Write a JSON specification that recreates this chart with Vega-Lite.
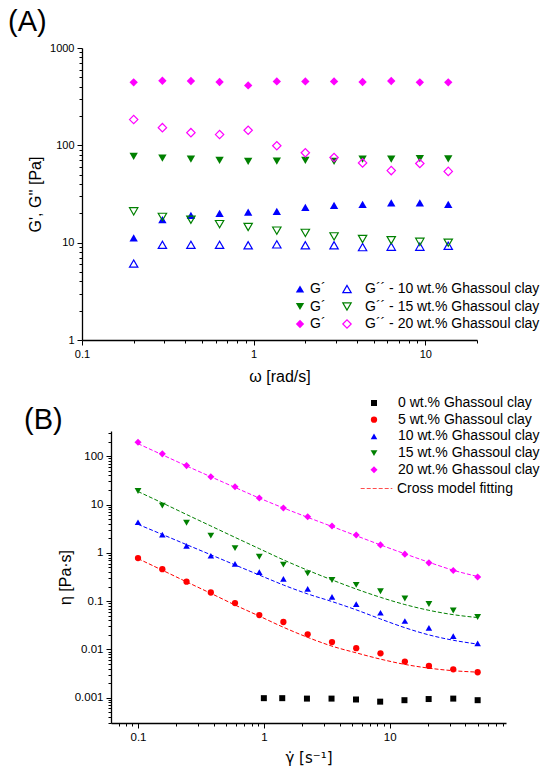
{
  "$schema": "https://vega.github.io/schema/vega-lite/v6.json",
  "background": "white",
  "padding": {"left": 8, "top": 8, "right": 0, "bottom": 0},
  "title": {
    "text": "(A)",
    "anchor": "start",
    "frame": "bounds",
    "font": "Liberation Sans",
    "fontSize": 29,
    "fontWeight": "normal",
    "color": "#000",
    "dx": -15,
    "offset": 5
  },
  "config": {
    "view": {"stroke": null},
    "font": "Liberation Sans",
    "axis": {
      "grid": false,
      "domainColor": "#000",
      "domainWidth": 1.3,
      "tickColor": "#000",
      "tickWidth": 1,
      "labelColor": "#000",
      "labelFont": "Liberation Sans",
      "labelFontSize": 11,
      "labelPadding": 3,
      "titleColor": "#000",
      "titleFont": "Liberation Sans",
      "titleFontSize": 16,
      "titleFontWeight": "normal"
    },
    "legend": {
      "orient": "none",
      "padding": 0,
      "labelFont": "Liberation Sans",
      "labelFontSize": 14,
      "labelColor": "#000",
      "labelLimit": 400,
      "rowPadding": 3.5
    }
  },
  "datasets": {
    "osc": [
      {"omega": 0.2, "clay": "10 wt.%", "Gp": 11.2, "Gpp": 6.1},
      {"omega": 0.294, "clay": "10 wt.%", "Gp": 17.2, "Gpp": 9.5},
      {"omega": 0.431, "clay": "10 wt.%", "Gp": 19.1, "Gpp": 9.5},
      {"omega": 0.633, "clay": "10 wt.%", "Gp": 20.0, "Gpp": 9.5},
      {"omega": 0.929, "clay": "10 wt.%", "Gp": 20.6, "Gpp": 9.4},
      {"omega": 1.364, "clay": "10 wt.%", "Gp": 21.0, "Gpp": 9.6},
      {"omega": 2.0, "clay": "10 wt.%", "Gp": 23.0, "Gpp": 9.4},
      {"omega": 2.94, "clay": "10 wt.%", "Gp": 24.2, "Gpp": 9.4},
      {"omega": 4.31, "clay": "10 wt.%", "Gp": 24.8, "Gpp": 9.0},
      {"omega": 6.33, "clay": "10 wt.%", "Gp": 25.6, "Gpp": 9.1},
      {"omega": 9.29, "clay": "10 wt.%", "Gp": 25.6, "Gpp": 9.1},
      {"omega": 13.6, "clay": "10 wt.%", "Gp": 24.8, "Gpp": 9.3},
      {"omega": 0.2, "clay": "15 wt.%", "Gp": 77, "Gpp": 21.0},
      {"omega": 0.294, "clay": "15 wt.%", "Gp": 74, "Gpp": 18.4},
      {"omega": 0.431, "clay": "15 wt.%", "Gp": 72, "Gpp": 17.2},
      {"omega": 0.633, "clay": "15 wt.%", "Gp": 70, "Gpp": 15.5},
      {"omega": 0.929, "clay": "15 wt.%", "Gp": 68.5, "Gpp": 14.5},
      {"omega": 1.364, "clay": "15 wt.%", "Gp": 69, "Gpp": 13.3},
      {"omega": 2.0, "clay": "15 wt.%", "Gp": 70, "Gpp": 12.6},
      {"omega": 2.94, "clay": "15 wt.%", "Gp": 68.5, "Gpp": 11.6},
      {"omega": 4.31, "clay": "15 wt.%", "Gp": 72, "Gpp": 10.9},
      {"omega": 6.33, "clay": "15 wt.%", "Gp": 72, "Gpp": 10.6},
      {"omega": 9.29, "clay": "15 wt.%", "Gp": 73, "Gpp": 10.2},
      {"omega": 13.6, "clay": "15 wt.%", "Gp": 72.5, "Gpp": 10.0},
      {"omega": 0.2, "clay": "20 wt.%", "Gp": 444, "Gpp": 184},
      {"omega": 0.294, "clay": "20 wt.%", "Gp": 461, "Gpp": 152},
      {"omega": 0.431, "clay": "20 wt.%", "Gp": 458, "Gpp": 135},
      {"omega": 0.633, "clay": "20 wt.%", "Gp": 447, "Gpp": 129},
      {"omega": 0.929, "clay": "20 wt.%", "Gp": 413, "Gpp": 143},
      {"omega": 1.364, "clay": "20 wt.%", "Gp": 454, "Gpp": 99},
      {"omega": 2.0, "clay": "20 wt.%", "Gp": 454, "Gpp": 84},
      {"omega": 2.94, "clay": "20 wt.%", "Gp": 454, "Gpp": 75},
      {"omega": 4.31, "clay": "20 wt.%", "Gp": 447, "Gpp": 66},
      {"omega": 6.33, "clay": "20 wt.%", "Gp": 458, "Gpp": 55},
      {"omega": 9.29, "clay": "20 wt.%", "Gp": 444, "Gpp": 65},
      {"omega": 13.6, "clay": "20 wt.%", "Gp": 444, "Gpp": 54}
    ],
    "flow": [
      {"rate": 1.0, "clay": "0 wt.%", "eta": 0.00098},
      {"rate": 1.4, "clay": "0 wt.%", "eta": 0.00098},
      {"rate": 2.2, "clay": "0 wt.%", "eta": 0.00096},
      {"rate": 3.45, "clay": "0 wt.%", "eta": 0.00096},
      {"rate": 5.4, "clay": "0 wt.%", "eta": 0.00092},
      {"rate": 8.4, "clay": "0 wt.%", "eta": 0.00083},
      {"rate": 13.1, "clay": "0 wt.%", "eta": 0.00089},
      {"rate": 20.4, "clay": "0 wt.%", "eta": 0.00094},
      {"rate": 32, "clay": "0 wt.%", "eta": 0.00096},
      {"rate": 50, "clay": "0 wt.%", "eta": 0.00089},
      {"rate": 0.1, "clay": "5 wt.%", "eta": 0.78},
      {"rate": 0.156, "clay": "5 wt.%", "eta": 0.46},
      {"rate": 0.243, "clay": "5 wt.%", "eta": 0.253},
      {"rate": 0.379, "clay": "5 wt.%", "eta": 0.151},
      {"rate": 0.59, "clay": "5 wt.%", "eta": 0.091},
      {"rate": 0.92, "clay": "5 wt.%", "eta": 0.0516},
      {"rate": 1.43, "clay": "5 wt.%", "eta": 0.037},
      {"rate": 2.23, "clay": "5 wt.%", "eta": 0.0206},
      {"rate": 3.48, "clay": "5 wt.%", "eta": 0.0142},
      {"rate": 5.42, "clay": "5 wt.%", "eta": 0.0106},
      {"rate": 8.45, "clay": "5 wt.%", "eta": 0.0083},
      {"rate": 13.2, "clay": "5 wt.%", "eta": 0.0056},
      {"rate": 20.5, "clay": "5 wt.%", "eta": 0.00455},
      {"rate": 32, "clay": "5 wt.%", "eta": 0.00388},
      {"rate": 50, "clay": "5 wt.%", "eta": 0.00337},
      {"rate": 0.1, "clay": "10 wt.%", "eta": 4.3},
      {"rate": 0.156, "clay": "10 wt.%", "eta": 2.38},
      {"rate": 0.243, "clay": "10 wt.%", "eta": 1.39},
      {"rate": 0.379, "clay": "10 wt.%", "eta": 0.87},
      {"rate": 0.59, "clay": "10 wt.%", "eta": 0.59},
      {"rate": 0.92, "clay": "10 wt.%", "eta": 0.4},
      {"rate": 1.43, "clay": "10 wt.%", "eta": 0.288},
      {"rate": 2.23, "clay": "10 wt.%", "eta": 0.179},
      {"rate": 3.48, "clay": "10 wt.%", "eta": 0.123},
      {"rate": 5.42, "clay": "10 wt.%", "eta": 0.087},
      {"rate": 8.45, "clay": "10 wt.%", "eta": 0.0575},
      {"rate": 13.2, "clay": "10 wt.%", "eta": 0.0388},
      {"rate": 20.5, "clay": "10 wt.%", "eta": 0.0279},
      {"rate": 32, "clay": "10 wt.%", "eta": 0.0188},
      {"rate": 50, "clay": "10 wt.%", "eta": 0.0133},
      {"rate": 0.1, "clay": "15 wt.%", "eta": 19.1},
      {"rate": 0.156, "clay": "15 wt.%", "eta": 9.5},
      {"rate": 0.243, "clay": "15 wt.%", "eta": 4.2},
      {"rate": 0.379, "clay": "15 wt.%", "eta": 2.27},
      {"rate": 0.59, "clay": "15 wt.%", "eta": 1.25},
      {"rate": 0.92, "clay": "15 wt.%", "eta": 0.83},
      {"rate": 1.43, "clay": "15 wt.%", "eta": 0.57},
      {"rate": 2.23, "clay": "15 wt.%", "eta": 0.376},
      {"rate": 3.48, "clay": "15 wt.%", "eta": 0.274},
      {"rate": 5.42, "clay": "15 wt.%", "eta": 0.217},
      {"rate": 8.45, "clay": "15 wt.%", "eta": 0.16},
      {"rate": 13.2, "clay": "15 wt.%", "eta": 0.1135},
      {"rate": 20.5, "clay": "15 wt.%", "eta": 0.087},
      {"rate": 32, "clay": "15 wt.%", "eta": 0.064},
      {"rate": 50, "clay": "15 wt.%", "eta": 0.047},
      {"rate": 0.1, "clay": "20 wt.%", "eta": 195},
      {"rate": 0.156, "clay": "20 wt.%", "eta": 112},
      {"rate": 0.243, "clay": "20 wt.%", "eta": 64},
      {"rate": 0.379, "clay": "20 wt.%", "eta": 37.6},
      {"rate": 0.59, "clay": "20 wt.%", "eta": 23.4},
      {"rate": 0.92, "clay": "20 wt.%", "eta": 13.7},
      {"rate": 1.43, "clay": "20 wt.%", "eta": 8.5},
      {"rate": 2.23, "clay": "20 wt.%", "eta": 5.6},
      {"rate": 3.48, "clay": "20 wt.%", "eta": 3.6},
      {"rate": 5.42, "clay": "20 wt.%", "eta": 2.34},
      {"rate": 8.45, "clay": "20 wt.%", "eta": 1.46},
      {"rate": 13.2, "clay": "20 wt.%", "eta": 0.94},
      {"rate": 20.5, "clay": "20 wt.%", "eta": 0.62},
      {"rate": 32, "clay": "20 wt.%", "eta": 0.43},
      {"rate": 50, "clay": "20 wt.%", "eta": 0.316}
    ],
    "fit": [
      {"rate": 0.1, "clay": "5 wt.%", "eta": 0.759},
      {"rate": 0.156, "clay": "5 wt.%", "eta": 0.437},
      {"rate": 0.243, "clay": "5 wt.%", "eta": 0.251},
      {"rate": 0.379, "clay": "5 wt.%", "eta": 0.145},
      {"rate": 0.59, "clay": "5 wt.%", "eta": 0.0832},
      {"rate": 0.92, "clay": "5 wt.%", "eta": 0.049},
      {"rate": 1.43, "clay": "5 wt.%", "eta": 0.0288},
      {"rate": 2.23, "clay": "5 wt.%", "eta": 0.0178},
      {"rate": 3.48, "clay": "5 wt.%", "eta": 0.0117},
      {"rate": 5.42, "clay": "5 wt.%", "eta": 0.0085},
      {"rate": 8.45, "clay": "5 wt.%", "eta": 0.0063},
      {"rate": 13.2, "clay": "5 wt.%", "eta": 0.0049},
      {"rate": 20.5, "clay": "5 wt.%", "eta": 0.0041},
      {"rate": 32, "clay": "5 wt.%", "eta": 0.00363},
      {"rate": 50, "clay": "5 wt.%", "eta": 0.00339},
      {"rate": 0.1, "clay": "10 wt.%", "eta": 3.89},
      {"rate": 0.156, "clay": "10 wt.%", "eta": 2.4},
      {"rate": 0.243, "clay": "10 wt.%", "eta": 1.48},
      {"rate": 0.379, "clay": "10 wt.%", "eta": 0.912},
      {"rate": 0.59, "clay": "10 wt.%", "eta": 0.562},
      {"rate": 0.92, "clay": "10 wt.%", "eta": 0.347},
      {"rate": 1.43, "clay": "10 wt.%", "eta": 0.216},
      {"rate": 2.23, "clay": "10 wt.%", "eta": 0.141},
      {"rate": 3.48, "clay": "10 wt.%", "eta": 0.098},
      {"rate": 5.42, "clay": "10 wt.%", "eta": 0.066},
      {"rate": 8.45, "clay": "10 wt.%", "eta": 0.0427},
      {"rate": 13.2, "clay": "10 wt.%", "eta": 0.0282},
      {"rate": 20.5, "clay": "10 wt.%", "eta": 0.02},
      {"rate": 32, "clay": "10 wt.%", "eta": 0.0155},
      {"rate": 50, "clay": "10 wt.%", "eta": 0.0129},
      {"rate": 0.1, "clay": "15 wt.%", "eta": 18.6},
      {"rate": 0.156, "clay": "15 wt.%", "eta": 10.8},
      {"rate": 0.243, "clay": "15 wt.%", "eta": 6.22},
      {"rate": 0.379, "clay": "15 wt.%", "eta": 3.6},
      {"rate": 0.59, "clay": "15 wt.%", "eta": 2.09},
      {"rate": 0.92, "clay": "15 wt.%", "eta": 1.22},
      {"rate": 1.43, "clay": "15 wt.%", "eta": 0.716},
      {"rate": 2.23, "clay": "15 wt.%", "eta": 0.436},
      {"rate": 3.48, "clay": "15 wt.%", "eta": 0.275},
      {"rate": 5.42, "clay": "15 wt.%", "eta": 0.178},
      {"rate": 8.45, "clay": "15 wt.%", "eta": 0.12},
      {"rate": 13.2, "clay": "15 wt.%", "eta": 0.085},
      {"rate": 20.5, "clay": "15 wt.%", "eta": 0.0646},
      {"rate": 32, "clay": "15 wt.%", "eta": 0.0525},
      {"rate": 50, "clay": "15 wt.%", "eta": 0.0457},
      {"rate": 0.1, "clay": "20 wt.%", "eta": 182},
      {"rate": 0.156, "clay": "20 wt.%", "eta": 107},
      {"rate": 0.243, "clay": "20 wt.%", "eta": 63},
      {"rate": 0.379, "clay": "20 wt.%", "eta": 37.6},
      {"rate": 0.59, "clay": "20 wt.%", "eta": 22.6},
      {"rate": 0.92, "clay": "20 wt.%", "eta": 13.6},
      {"rate": 1.43, "clay": "20 wt.%", "eta": 8.5},
      {"rate": 2.23, "clay": "20 wt.%", "eta": 5.43},
      {"rate": 3.48, "clay": "20 wt.%", "eta": 3.51},
      {"rate": 5.42, "clay": "20 wt.%", "eta": 2.26},
      {"rate": 8.45, "clay": "20 wt.%", "eta": 1.46},
      {"rate": 13.2, "clay": "20 wt.%", "eta": 0.955},
      {"rate": 20.5, "clay": "20 wt.%", "eta": 0.638},
      {"rate": 32, "clay": "20 wt.%", "eta": 0.436},
      {"rate": 50, "clay": "20 wt.%", "eta": 0.324}
    ]
  },
  "vconcat": [
    {
      "hconcat": [
        {
          "width": 4,
          "height": 1,
          "data": {"values": [{}]},
          "mark": {"type": "rect", "opacity": 0}
        },
        {
          "width": 395,
          "height": 292,
          "data": {"name": "osc"},
          "encoding": {
            "x": {
              "field": "omega",
              "type": "quantitative",
              "title": "ω [rad/s]",
              "scale": {"type": "log", "domain": [0.1, 20], "nice": false},
              "axis": {
                "values": [0.1, 0.2, 0.3, 0.4, 0.5, 0.6, 0.7, 0.8, 0.9, 1, 2, 3, 4, 5, 6, 7, 8, 9, 10, 20],
                "format": "~g",
                "labelExpr": "abs(log(datum.value)/LN10 - round(log(datum.value)/LN10)) < 0.001 ? datum.label : ''",
                "tickSize": {"condition": {"test": "abs(log(datum.value)/LN10 - round(log(datum.value)/LN10)) < 0.001", "value": 5}, "value": 3},
                "labelFlush": false,
                "titlePadding": 9
              }
            }
          },
          "layer": [
            {
              "mark": {"type": "point", "filled": true, "size": 70, "opacity": 1},
              "encoding": {
                "y": {
                  "field": "Gp",
                  "type": "quantitative",
                  "title": "G', G'' [Pa]",
                  "scale": {"type": "log", "domain": [1, 1000], "nice": false},
                  "axis": {
                    "values": [1, 2, 3, 4, 5, 6, 7, 8, 9, 10, 20, 30, 40, 50, 60, 70, 80, 90, 100, 200, 300, 400, 500, 600, 700, 800, 900, 1000],
                    "format": "~g",
                    "labelExpr": "abs(log(datum.value)/LN10 - round(log(datum.value)/LN10)) < 0.001 ? datum.label : ''",
                    "tickSize": {"condition": {"test": "abs(log(datum.value)/LN10 - round(log(datum.value)/LN10)) < 0.001", "value": 5}, "value": 3},
                    "labelFlush": false,
                    "titlePadding": 6
                  }
                },
                "color": {
                  "field": "clay",
                  "type": "nominal",
                  "scale": {"domain": ["10 wt.%", "15 wt.%", "20 wt.%"], "range": ["#0000ff", "#008000", "#ff00ff"]},
                  "legend": {"title": null, "orient": "none", "legendX": 211, "legendY": 234, "labelExpr": "'G´'", "labelOffset": 3, "symbolSize": 70}
                },
                "shape": {
                  "field": "clay",
                  "type": "nominal",
                  "scale": {"domain": ["10 wt.%", "15 wt.%", "20 wt.%"], "range": ["triangle-up", "triangle-down", "diamond"]},
                  "legend": {"title": null, "orient": "none", "legendX": 211, "legendY": 234, "labelExpr": "'G´'", "labelOffset": 3, "symbolSize": 70}
                }
              }
            },
            {
              "mark": {"type": "point", "filled": false, "size": 70, "strokeWidth": 1.2, "opacity": 1},
              "encoding": {
                "y": {
                  "field": "Gpp",
                  "type": "quantitative",
                  "title": "G', G'' [Pa]",
                  "scale": {"type": "log", "domain": [1, 1000], "nice": false},
                  "axis": {
                    "values": [1, 2, 3, 4, 5, 6, 7, 8, 9, 10, 20, 30, 40, 50, 60, 70, 80, 90, 100, 200, 300, 400, 500, 600, 700, 800, 900, 1000],
                    "format": "~g",
                    "labelExpr": "abs(log(datum.value)/LN10 - round(log(datum.value)/LN10)) < 0.001 ? datum.label : ''",
                    "tickSize": {"condition": {"test": "abs(log(datum.value)/LN10 - round(log(datum.value)/LN10)) < 0.001", "value": 5}, "value": 3},
                    "labelFlush": false,
                    "titlePadding": 6
                  }
                },
                "color": {
                  "field": "clay",
                  "type": "nominal",
                  "scale": {"domain": ["10 wt.%", "15 wt.%", "20 wt.%"], "range": ["#0000ff", "#008000", "#ff00ff"]},
                  "legend": {"title": null, "orient": "none", "legendX": 258, "legendY": 234, "labelExpr": "'G´´ - ' + datum.label + ' Ghassoul clay'", "labelOffset": 11, "symbolSize": 70, "symbolStrokeWidth": 1.2}
                },
                "shape": {
                  "field": "clay",
                  "type": "nominal",
                  "scale": {"domain": ["10 wt.%", "15 wt.%", "20 wt.%"], "range": ["triangle-up", "triangle-down", "diamond"]},
                  "legend": {"title": null, "orient": "none", "legendX": 258, "legendY": 234, "labelExpr": "'G´´ - ' + datum.label + ' Ghassoul clay'", "labelOffset": 11, "symbolSize": 70, "symbolStrokeWidth": 1.2}
                }
              }
            }
          ],
          "resolve": {"scale": {"color": "independent", "shape": "independent"}}
        }
      ],
      "spacing": 0,
      "resolve": {"scale": {"color": "independent", "shape": "independent"}}
    },
    {
      "hconcat": [
        {
          "width": 1,
          "height": 1,
          "data": {"values": [{}]},
          "mark": {"type": "rect", "opacity": 0}
        },
        {
          "width": 395,
          "height": 292,
          "encoding": {
            "x": {
              "field": "rate",
              "type": "quantitative",
              "title": "γ̇ [s⁻¹]",
              "scale": {"type": "log", "domain": [0.061, 84], "nice": false},
              "axis": {
                "values": [0.07, 0.08, 0.09, 0.1, 0.2, 0.3, 0.4, 0.5, 0.6, 0.7, 0.8, 0.9, 1, 2, 3, 4, 5, 6, 7, 8, 9, 10, 20, 30, 40, 50, 60, 70, 80],
                "format": "~g",
                "labelExpr": "abs(log(datum.value)/LN10 - round(log(datum.value)/LN10)) < 0.001 ? datum.label : ''",
                "tickSize": {"condition": {"test": "abs(log(datum.value)/LN10 - round(log(datum.value)/LN10)) < 0.001", "value": 5}, "value": 3},
                "labelFontSize": 11.5,
                "labelFlush": false,
                "titleFont": "DejaVu Sans",
                "titleFontSize": 15,
                "titlePadding": 8
              }
            },
            "y": {
              "field": "eta",
              "type": "quantitative",
              "title": "η [Pa·s]",
              "scale": {"type": "log", "domain": [0.0003, 333], "nice": false},
              "axis": {
                "values": [0.0003, 0.0004, 0.0005, 0.0006, 0.0007, 0.0008, 0.0009, 0.001, 0.002, 0.003, 0.004, 0.005, 0.006, 0.007, 0.008, 0.009, 0.01, 0.02, 0.03, 0.04, 0.05, 0.06, 0.07, 0.08, 0.09, 0.1, 0.2, 0.3, 0.4, 0.5, 0.6, 0.7, 0.8, 0.9, 1, 2, 3, 4, 5, 6, 7, 8, 9, 10, 20, 30, 40, 50, 60, 70, 80, 90, 100, 200, 300],
                "format": "~g",
                "labelExpr": "abs(log(datum.value)/LN10 - round(log(datum.value)/LN10)) < 0.001 ? datum.label : ''",
                "tickSize": {"condition": {"test": "abs(log(datum.value)/LN10 - round(log(datum.value)/LN10)) < 0.001", "value": 5}, "value": 3},
                "labelFontSize": 11.5,
                "labelFlush": false,
                "titlePadding": 1
              }
            }
          },
          "layer": [
            {
              "data": {"name": "fit"},
              "mark": {"type": "line", "strokeWidth": 1, "interpolate": "monotone", "color": "#ff4d4d"},
              "encoding": {
                "stroke": {
                  "field": "clay",
                  "type": "nominal",
                  "scale": {"domain": ["5 wt.%", "10 wt.%", "15 wt.%", "20 wt.%"], "range": ["#ff0000", "#0000ff", "#008000", "#ff00ff"]},
                  "legend": null
                },
                "strokeDash": {
                  "datum": "Cross model fitting",
                  "type": "nominal",
                  "scale": {"range": [[4, 2]]},
                  "legend": {"title": null, "orient": "none", "legendX": 249, "legendY": 41, "symbolType": "stroke", "symbolSize": 1000, "symbolStrokeColor": "#ff4d4d", "symbolStrokeWidth": 1.2, "labelOffset": 4}
                }
              }
            },
            {
              "data": {"name": "flow"},
              "mark": {"type": "point", "filled": true, "opacity": 1},
              "encoding": {
                "color": {
                  "field": "clay",
                  "type": "nominal",
                  "scale": {"domain": ["0 wt.%", "5 wt.%", "10 wt.%", "15 wt.%", "20 wt.%"], "range": ["#000000", "#ff0000", "#0000ff", "#008000", "#ff00ff"]},
                  "legend": {"title": "(B)", "titleOrient": "left", "titleAnchor": "start", "titleBaseline": "line-top", "titleLineHeight": 50, "titleFont": "Liberation Sans", "titleFontSize": 29, "titleFontWeight": "normal", "titleColor": "#000", "titlePadding": 304, "orient": "none", "legendX": -87, "legendY": -35, "labelExpr": "datum.label + ' Ghassoul clay'", "labelOffset": 17, "rowPadding": 2.7}
                },
                "shape": {
                  "field": "clay",
                  "type": "nominal",
                  "scale": {"domain": ["0 wt.%", "5 wt.%", "10 wt.%", "15 wt.%", "20 wt.%"], "range": ["square", "circle", "triangle-up", "triangle-down", "diamond"]},
                  "legend": {"title": "(B)", "titleOrient": "left", "titleAnchor": "start", "titleBaseline": "line-top", "titleLineHeight": 50, "titleFont": "Liberation Sans", "titleFontSize": 29, "titleFontWeight": "normal", "titleColor": "#000", "titlePadding": 304, "orient": "none", "legendX": -87, "legendY": -35, "labelExpr": "datum.label + ' Ghassoul clay'", "labelOffset": 17, "rowPadding": 2.7}
                },
                "size": {
                  "field": "clay",
                  "type": "nominal",
                  "scale": {"domain": ["0 wt.%", "5 wt.%", "10 wt.%", "15 wt.%", "20 wt.%"], "range": [36, 50, 60, 60, 70]},
                  "legend": {"title": "(B)", "titleOrient": "left", "titleAnchor": "start", "titleBaseline": "line-top", "titleLineHeight": 50, "titleFont": "Liberation Sans", "titleFontSize": 29, "titleFontWeight": "normal", "titleColor": "#000", "titlePadding": 304, "orient": "none", "legendX": -87, "legendY": -35, "labelExpr": "datum.label + ' Ghassoul clay'", "labelOffset": 17, "rowPadding": 2.7}
                }
              }
            }
          ]
        }
      ],
      "spacing": 0,
      "resolve": {"scale": {"color": "independent", "shape": "independent", "size": "independent", "stroke": "independent", "strokeDash": "independent"}}
    }
  ],
  "spacing": 12,
  "resolve": {"scale": {"color": "independent", "shape": "independent", "size": "independent", "stroke": "independent", "strokeDash": "independent"}}
}
